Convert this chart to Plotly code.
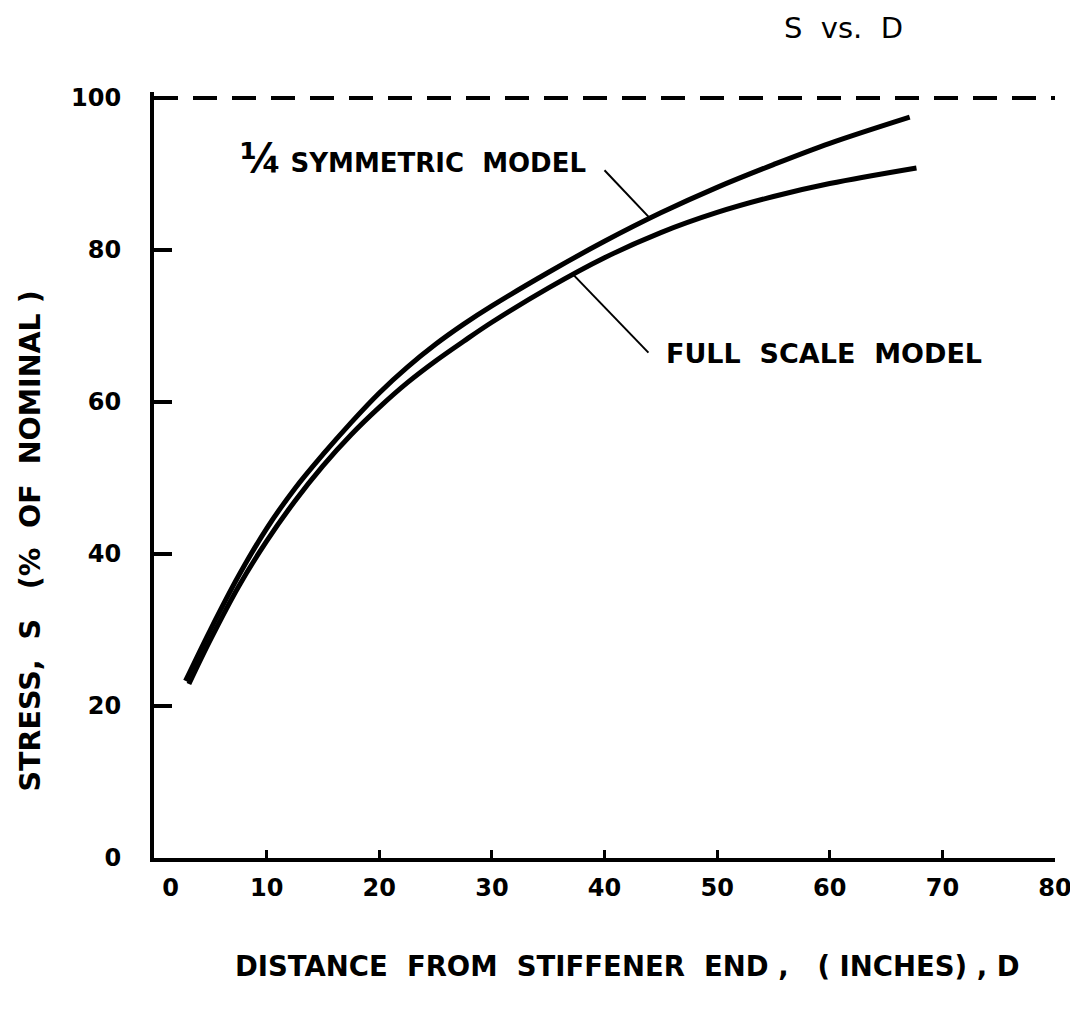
import plotly.graph_objects as go

# Read values (D in inches, S in % of nominal)
quarter_x = [2.8, 5.0, 7.5, 10.0, 12.5, 15.0, 17.5, 20.0, 22.5, 25.0, 27.5, 30.0, 35.0, 40.0, 45.0, 50.0, 55.0, 60.0, 67.1]
quarter_y = [23.3, 30.0, 37.1, 43.35, 48.6, 53.1, 57.3, 61.2, 64.6, 67.6, 70.25, 72.65, 77.05, 81.15, 84.9, 88.25, 91.25, 94.05, 97.5]

full_x = [3.1, 5.0, 7.5, 10.0, 12.5, 15.0, 17.5, 20.0, 22.5, 25.0, 27.5, 30.0, 35.0, 40.0, 45.0, 50.0, 55.0, 60.0, 67.7]
full_y = [22.9, 28.7, 35.7, 41.7, 46.95, 51.6, 55.7, 59.3, 62.55, 65.4, 68.0, 70.5, 75.0, 79.0, 82.3, 84.95, 87.05, 88.75, 90.8]

nominal_x = [0, 80]
nominal_y = [100, 100]

# Leader lines for the labels
quarter_leader_x = [40.0, 43.9]
quarter_leader_y = [90.5, 84.4]
full_leader_x = [37.2, 43.9]
full_leader_y = [76.8, 66.5]

x_ticks = [0, 10, 20, 30, 40, 50, 60, 70, 80]
x_ticklabels = ["\u2007\u20070", "10", "20", "30", "40", "50", "60", "70", "80"]
y_ticks = [0, 20, 40, 60, 80, 100]
y_ticklabels = ["0", "20", "40", "60", "80", "100"]

FONT = "DejaVu Sans"
BLACK = "#000000"

fig = go.Figure()

fig.add_trace(go.Scatter(x=nominal_x, y=nominal_y, mode="lines",
                         line=dict(color=BLACK, width=4, dash="24px,15px"),
                         hoverinfo="skip", showlegend=False))
fig.add_trace(go.Scatter(x=quarter_x, y=quarter_y, mode="lines",
                         line=dict(color=BLACK, width=5, shape="spline", smoothing=1.0),
                         name="1/4 Symmetric Model", showlegend=False))
fig.add_trace(go.Scatter(x=full_x, y=full_y, mode="lines",
                         line=dict(color=BLACK, width=5, shape="spline", smoothing=1.0),
                         name="Full Scale Model", showlegend=False))
fig.add_trace(go.Scatter(x=quarter_leader_x, y=quarter_leader_y, mode="lines",
                         line=dict(color=BLACK, width=2), hoverinfo="skip", showlegend=False))
fig.add_trace(go.Scatter(x=full_leader_x, y=full_leader_y, mode="lines",
                         line=dict(color=BLACK, width=2), hoverinfo="skip", showlegend=False))

fig.add_annotation(x=7.5, y=92.1, xref="x", yref="y", xanchor="left", yanchor="middle",
                   text='<span style="font-size:40px">¼</span> SYMMETRIC  MODEL', showarrow=False,
                   font=dict(family=FONT, size=26, color=BLACK, weight="bold"))
fig.add_annotation(x=45.3, y=66.4, xref="x", yref="y", xanchor="left", yanchor="middle",
                   text="FULL  SCALE  MODEL", showarrow=False,
                   font=dict(family=FONT, size=27, color=BLACK, weight="bold"))

fig.add_annotation(x=0.697, y=1.0836, xref="paper", yref="paper", xanchor="left", yanchor="middle",
                   text="S  vs.  D", showarrow=False,
                   font=dict(family=FONT, size=29, color=BLACK))
fig.add_annotation(x=0.526, y=-0.141, xref="paper", yref="paper", xanchor="center", yanchor="middle",
                   text="DISTANCE  FROM  STIFFENER  END ,   ( INCHES) , D", showarrow=False,
                   font=dict(family=FONT, size=27.5, color=BLACK, weight="bold"))
fig.add_annotation(x=-0.137, y=0.414, xref="paper", yref="paper", xanchor="center", yanchor="middle",
                   text="STRESS,  S   (%  OF  NOMINAL )", showarrow=False, textangle=-90,
                   font=dict(family=FONT, size=28.5, color=BLACK, weight="bold"))

fig.update_xaxes(range=[0, 80], showgrid=False, zeroline=False, showline=True,
                 linecolor=BLACK, linewidth=4, ticks="inside", ticklen=8, tickwidth=3,
                 tickcolor=BLACK, tickvals=x_ticks, ticktext=x_ticklabels,
                 ticklabelstandoff=5,
                 tickfont=dict(family=FONT, size=24, color=BLACK, weight="bold"))
fig.update_yaxes(range=[0, 100.8], showgrid=False, zeroline=False, showline=True,
                 linecolor=BLACK, linewidth=4, ticks="inside", ticklen=18, tickwidth=4,
                 tickcolor=BLACK, tickvals=y_ticks, ticktext=y_ticklabels,
                 ticklabelstandoff=24,
                 tickfont=dict(family=FONT, size=24, color=BLACK, weight="bold"))

fig.update_layout(width=1078, height=1014, autosize=False,
                  margin=dict(l=146, r=31, t=84, b=164),
                  paper_bgcolor="white", plot_bgcolor="white", showlegend=False)

fig.write_html("out.html")
